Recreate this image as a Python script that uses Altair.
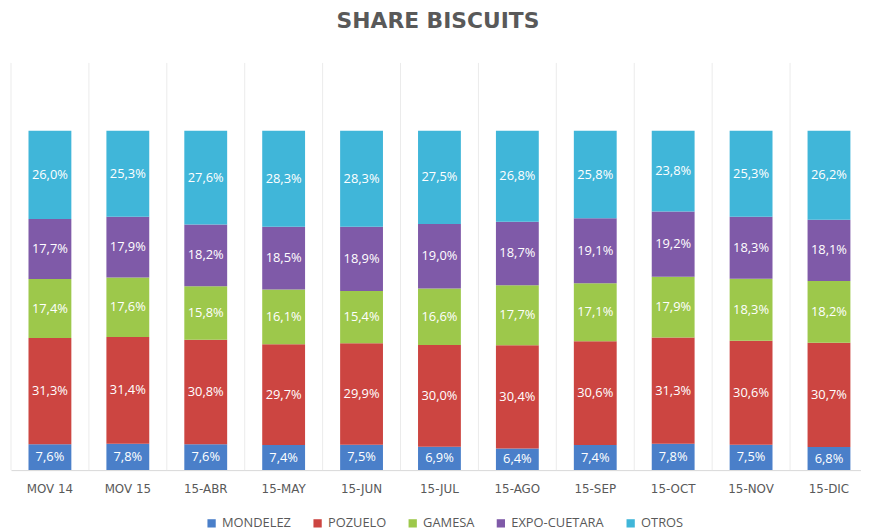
import altair as alt
import pandas as pd

categories = ["MOV 14", "MOV 15", "15-ABR", "15-MAY", "15-JUN", "15-JUL",
              "15-AGO", "15-SEP", "15-OCT", "15-NOV", "15-DIC"]
series = ["MONDELEZ", "POZUELO", "GAMESA", "EXPO-CUETARA", "OTROS"]
mondelez = [7.6, 7.8, 7.6, 7.4, 7.5, 6.9, 6.4, 7.4, 7.8, 7.5, 6.8]
pozuelo = [31.3, 31.4, 30.8, 29.7, 29.9, 30.0, 30.4, 30.6, 31.3, 30.6, 30.7]
gamesa = [17.4, 17.6, 15.8, 16.1, 15.4, 16.6, 17.7, 17.1, 17.9, 18.3, 18.2]
expo = [17.7, 17.9, 18.2, 18.5, 18.9, 19.0, 18.7, 19.1, 19.2, 18.3, 18.1]
otros = [26.0, 25.3, 27.6, 28.3, 28.3, 27.5, 26.8, 25.8, 23.8, 25.3, 26.2]
colors = ["#4A7FC9", "#CC4541", "#9DC84B", "#7F5AA8", "#40B6D9"]

rows = []
for s_i, (name, vals) in enumerate(zip(series, [mondelez, pozuelo, gamesa, expo, otros])):
    for c, v in zip(categories, vals):
        rows.append({"cat": c, "brand": name, "value": v, "ord": s_i})
df = pd.DataFrame(rows)

W = 858
RANGE_W = 865
H = 411

xscale = alt.Scale(domain=categories, range=[0, RANGE_W], paddingInner=0.45, paddingOuter=0.225)
yscale = alt.Scale(domain=[0, 120])
xaxis = alt.Axis(title=None, labelAngle=0, ticks=False, grid=False,
                 domainColor="#D9D9D9", domainWidth=1,
                 labelColor="#595959", labelFont="DejaVu Sans",
                 labelFontSize=12, labelPadding=14)

base = alt.Chart(df)

grid = alt.Chart(pd.DataFrame({"cat": categories})).mark_rule(
    color="#EBEBEB", strokeWidth=1, xOffset=-39.3
).encode(
    x=alt.X("cat:N", scale=xscale, sort=categories, axis=xaxis),
    y=alt.value(0),
    y2=alt.value(H),
)

bars = base.mark_bar().encode(
    x=alt.X("cat:N", scale=xscale, sort=categories, axis=xaxis),
    y=alt.Y("value:Q", stack="zero", scale=yscale, axis=None),
    color=alt.Color("brand:N", scale=alt.Scale(domain=series, range=colors),
                    legend=alt.Legend(title=None, orient="none", direction="horizontal",
                                      legendX=196, legendY=458,
                                      symbolType="square", symbolSize=70,
                                      symbolStrokeWidth=0,
                                      labelFont="Open Sans", labelFontSize=13,
                                      labelColor="#595959", columnPadding=20,
                                      labelOffset=4)),
    order=alt.Order("ord:Q"),
)

labels = base.transform_stack(
    stack="value", groupby=["cat"], as_=["v0", "v1"], sort=[alt.SortField("ord")]
).transform_calculate(
    mid="(datum.v0 + datum.v1) / 2",
    lab="replace(format(datum.value, '.1f'), '.', ',') + '%'",
).mark_text(color="white", font="Open Sans", fontSize=13, baseline="middle").encode(
    x=alt.X("cat:N", scale=xscale, sort=categories, axis=xaxis),
    y=alt.Y("mid:Q", scale=yscale, axis=None),
    text="lab:N",
)

chart = alt.layer(grid, bars, labels).properties(
    width=W, height=H,
    autosize=alt.AutoSizeParams(type="none"),
    padding={"left": 3, "top": 53, "right": 0, "bottom": 58},
    title=alt.TitleParams("SHARE BISCUITS", anchor="middle", font="DejaVu Sans",
                          fontSize=22, fontWeight="bold", color="#595959",
                          baseline="alphabetic", offset=13, dx=2),
).configure_view(stroke=None)

chart.save("out.html", embed_options={"renderer": "svg", "actions": False})
